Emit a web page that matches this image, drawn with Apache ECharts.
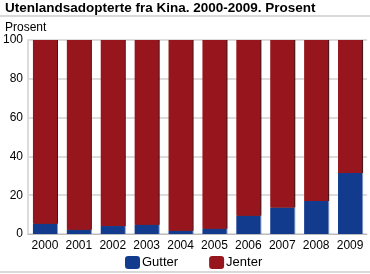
<!DOCTYPE html>
<html>
<head>
<meta charset="utf-8">
<script src="https://cdn.jsdelivr.net/npm/echarts@6/dist/echarts.min.js"></script>
<style>
  html, body { margin: 0; padding: 0; background: #fff; }
  #chart { width: 370px; height: 274px; }
</style>
</head>
<body>
<div id="chart"></div>
<script>
const years = ['2000', '2001', '2002', '2003', '2004', '2005', '2006', '2007', '2008', '2009']
const gutter = [5.3, 2.2, 4.1, 4.8, 1.7, 2.7, 9.4, 13.6, 17.0, 31.4]
const jenter = [94.7, 97.8, 95.9, 95.2, 98.3, 97.3, 90.6, 86.4, 83.0, 68.6]

const font = 'Arial, "Liberation Sans", sans-serif'
const chart = echarts.init(document.getElementById('chart'))

chart.setOption({
  animation: false,
  textStyle: { fontFamily: font },
  title: {
    text: 'Utenlandsadopterte fra Kina. 2000-2009. Prosent',
    left: 5,
    top: 1,
    padding: 0,
    textStyle: { fontSize: 13.5, fontWeight: 'bold', color: '#000', fontFamily: font }
  },
  graphic: [
    { type: 'rect', shape: { x: 0, y: 15, width: 370, height: 2 }, style: { fill: '#d9d9d9' } },
    { type: 'rect', shape: { x: 0, y: 271, width: 370, height: 2 }, style: { fill: '#d9d9d9' } },
    { type: 'text', left: 5, top: 22, style: { text: 'Prosent', fontSize: 12, fill: '#000', fontFamily: font } }
  ],
  legend: {
    top: 256,
    left: 125,
    padding: 0,
    itemGap: 31,
    itemWidth: 15,
    itemHeight: 13,
    textStyle: { fontSize: 13, color: '#000', padding: [0, 0, 0, -3] },
    data: ['Gutter', 'Jenter']
  },
  grid: { left: 26, right: 3, top: 40, bottom: 40 },
  xAxis: {
    type: 'category',
    data: years,
    axisTick: { show: false },
    axisLine: { lineStyle: { color: '#bcbcbc', width: 1 } },
    axisLabel: { color: '#000', fontSize: 12, margin: 6, interval: 0 }
  },
  yAxis: {
    type: 'value',
    min: 0,
    max: 100,
    interval: 20,
    axisLine: { show: true, lineStyle: { color: '#dcdcdc', width: 2 } },
    axisTick: { show: false },
    axisLabel: { color: '#000', fontSize: 12, margin: 5 },
    splitLine: { lineStyle: { color: '#dcdcdc', width: 2 } }
  },
  series: [
    {
      name: 'Gutter',
      type: 'bar',
      stack: 'total',
      barCategoryGap: '29%',
      data: gutter,
      itemStyle: { color: '#133b8d', shadowColor: 'rgba(80,110,170,0.7)', shadowOffsetX: 1 }
    },
    {
      name: 'Jenter',
      type: 'bar',
      stack: 'total',
      data: jenter,
      itemStyle: { color: '#97161d', shadowColor: 'rgba(40,0,0,0.9)', shadowOffsetX: 1 }
    }
  ]
})
</script>
</body>
</html>
